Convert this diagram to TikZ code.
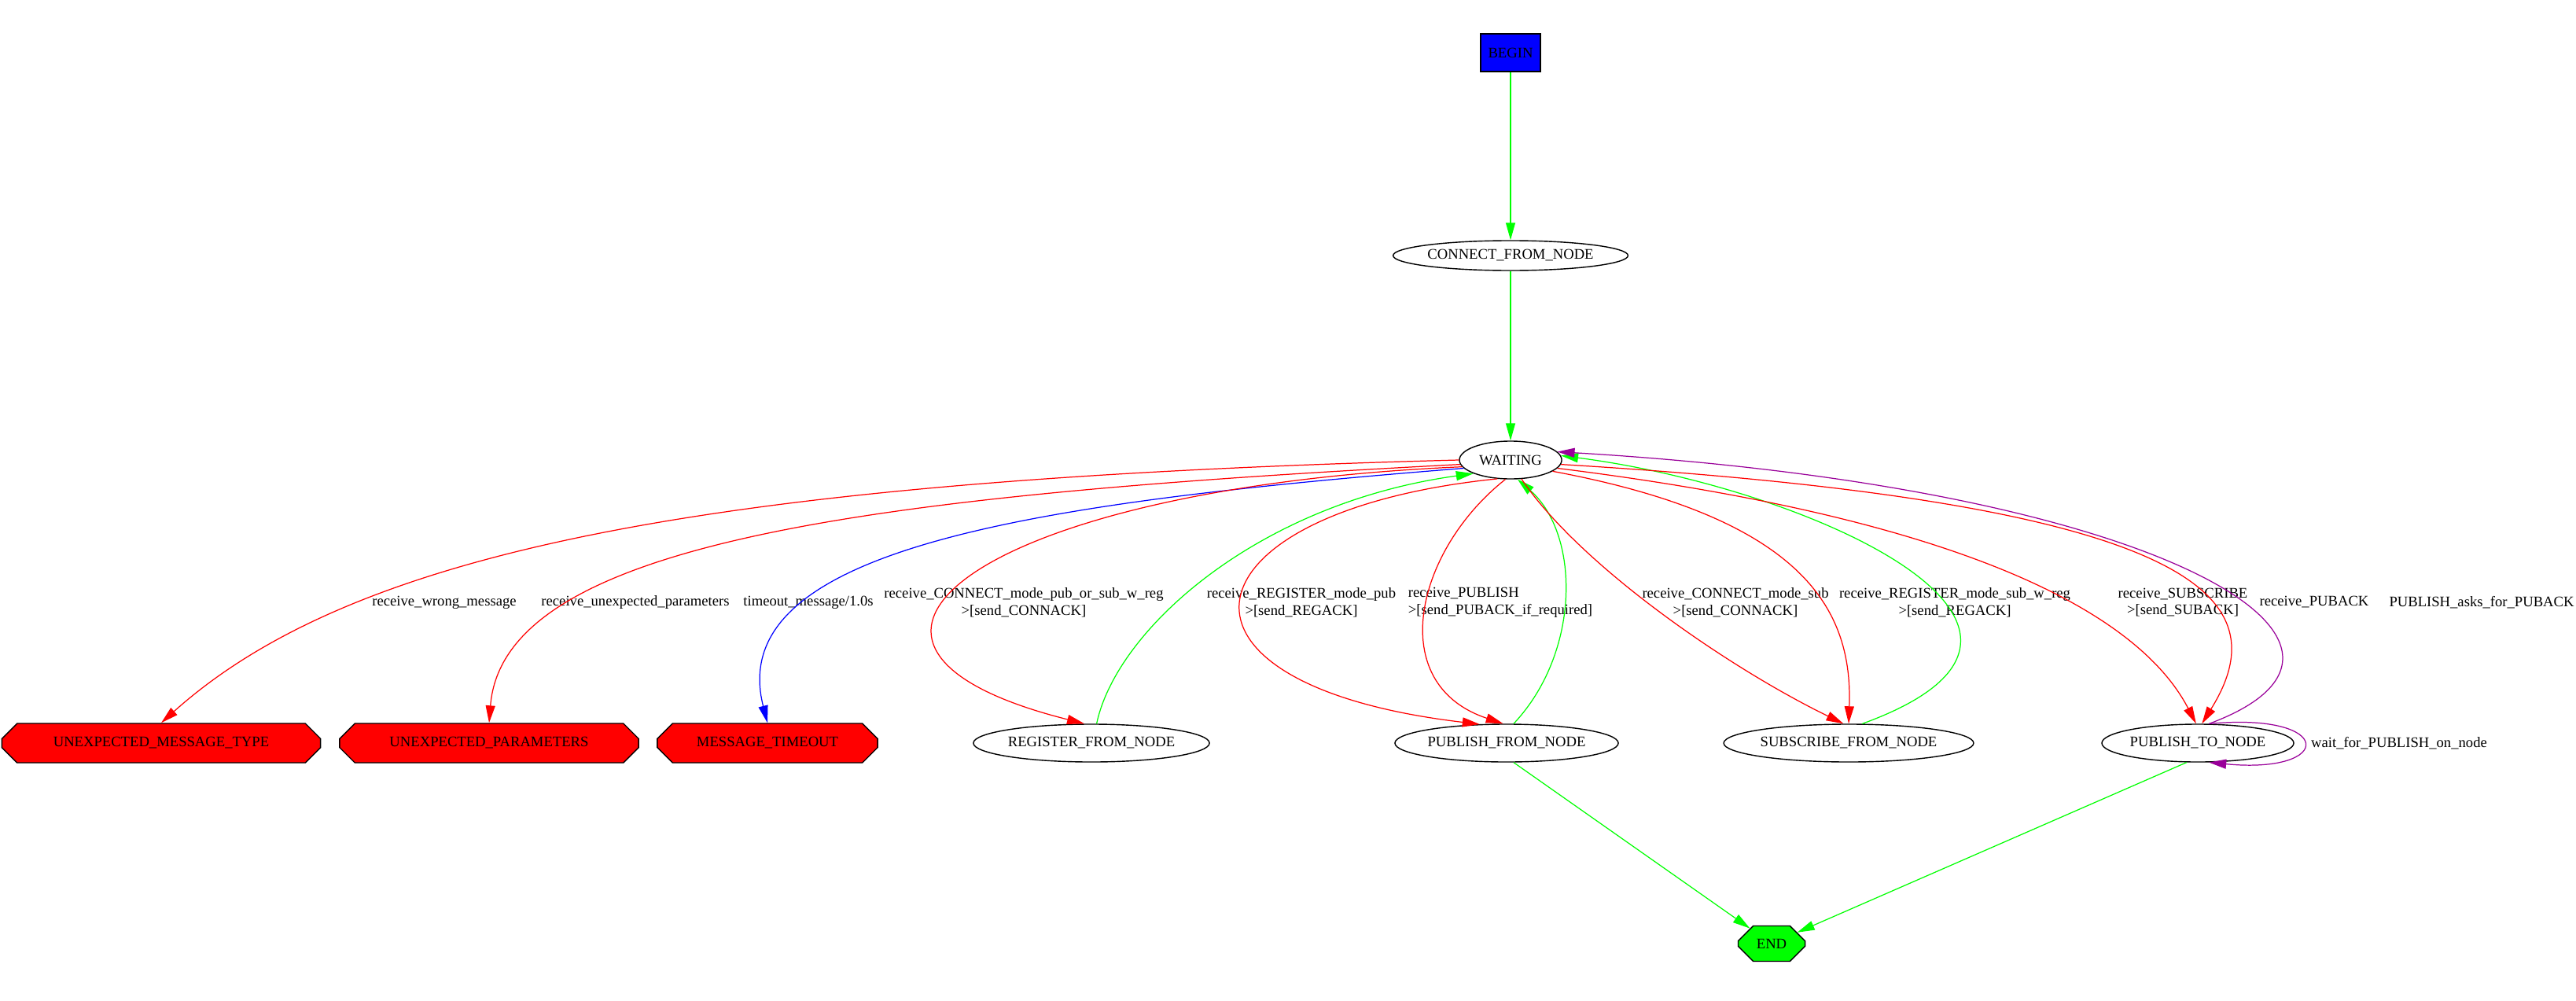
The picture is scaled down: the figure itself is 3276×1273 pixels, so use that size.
\documentclass[tikz,border=0pt]{standalone}
\usepackage{fontspec}
\setmainfont{Liberation Serif}
\usetikzlibrary{arrows.meta,shapes.misc,shapes.geometric}
\tikzset{
  state/.style={draw,ellipse,line width=0.4pt,inner sep=0pt,minimum height=0.38cm},
  errstate/.style={draw,chamfered rectangle,fill=red,inner sep=0pt,minimum height=0.5cm,chamfered rectangle ysep=0.12cm},
  lbl/.style={font=\fontsize{5.3}{6.2}\selectfont,align=center,text=black,inner sep=1pt},
  tr/.style={-{Triangle[length=0.22cm,width=0.12cm]},line width=0.35pt}
}
\begin{document}
\begin{tikzpicture}[x=0.01cm,y=-0.01cm,font=\fontsize{5.3}{6.5}\selectfont]
\useasboundingbox (0,0) rectangle (3276,1273);
% states
\node[draw,fill=blue,minimum width=0.76cm,minimum height=0.48cm,inner sep=0pt] (begin) at (1921,67) {BEGIN};
\node[state,minimum width=2.95cm] (connect) at (1921,325) {CONNECT\_FROM\_NODE};
\node[state,minimum width=1.3cm,minimum height=0.48cm] (waiting) at (1921,585) {WAITING};
\node[errstate,minimum width=4.05cm,chamfered rectangle xsep=1.15cm] (umt) at (205,945) {UNEXPECTED\_MESSAGE\_TYPE};
\node[errstate,minimum width=3.8cm,chamfered rectangle xsep=1.05cm] (upar) at (622,945) {UNEXPECTED\_PARAMETERS};
\node[errstate,minimum width=2.8cm,chamfered rectangle xsep=0.8cm] (mto) at (976,945) {MESSAGE\_TIMEOUT};
\node[state,minimum width=2.98cm,minimum height=0.48cm] (regfn) at (1388,945) {REGISTER\_FROM\_NODE};
\node[state,minimum width=2.84cm,minimum height=0.48cm] (pubfn) at (1916,945) {PUBLISH\_FROM\_NODE};
\node[state,minimum width=3.1cm,minimum height=0.48cm] (subfn) at (2351,945) {SUBSCRIBE\_FROM\_NODE};
\node[state,minimum width=2.43cm,minimum height=0.48cm] (pubtn) at (2795,945) {PUBLISH\_TO\_NODE};
\node[draw,chamfered rectangle,chamfered rectangle xsep=0.2cm,chamfered rectangle ysep=0.13cm,fill=green,minimum width=0.85cm,minimum height=0.45cm,inner sep=0pt] (end) at (2253,1200) {END};
% labels
\node[lbl] (lwrong) at (565,766) {receive\_wrong\_message};
\node[lbl] (lunexp) at (808,766) {receive\_unexpected\_parameters};
\node[lbl] (ltime) at (1028,766) {timeout\_message/1.0s};
\node[lbl] (lconpub) at (1302,766) {receive\_CONNECT\_mode\_pub\_or\_sub\_w\_reg\\>[send\_CONNACK]};
\node[lbl] (lregpub) at (1655,766) {receive\_REGISTER\_mode\_pub\\>[send\_REGACK]};
\node[lbl,align=left] (lpub) at (1908,766) {receive\_PUBLISH\\>[send\_PUBACK\_if\_required]};
\node[lbl] (lconsub) at (2207,766) {receive\_CONNECT\_mode\_sub\\>[send\_CONNACK]};
\node[lbl] (lregsub) at (2486,766) {receive\_REGISTER\_mode\_sub\_w\_reg\\>[send\_REGACK]};
\node[lbl] (lsub) at (2776,766) {receive\_SUBSCRIBE\\>[send\_SUBACK]};
\node[lbl] (lpuback) at (2943,766) {receive\_PUBACK};
\node[lbl] (lasks) at (3156,766) {PUBLISH\_asks\_for\_PUBACK};
\node[lbl] (lwait) at (3051,945) {wait\_for\_PUBLISH\_on\_node};
% transitions
\draw[tr,green] (begin) -- (connect);
\draw[tr,green] (connect) -- (waiting);
\draw[tr,red] (waiting.west) .. controls (900,610) and (450,700) .. (umt.north);
\draw[tr,red] (waiting.185) .. controls (1100,630) and (640,690) .. (upar.north);
\draw[tr,blue] (waiting.190) .. controls (1300,640) and (920,700) .. (mto.north);
\draw[tr,red] (waiting.188) .. controls (1250,620) and (980,820) .. (regfn.110);
\draw[tr,green] (regfn.75) .. controls (1420,800) and (1600,640) .. (waiting.200);
\draw[tr,red] (waiting.235) .. controls (1500,650) and (1450,870) .. (pubfn.145);
\draw[tr,red] (waiting.255) .. controls (1800,700) and (1760,870) .. (pubfn.100);
\draw[tr,green] (pubfn.70) .. controls (2010,830) and (2010,680) .. (waiting.290);
\draw[tr,red] (waiting.300) .. controls (2010,720) and (2200,850) .. (subfn.105);
\draw[tr,red] (waiting.345) .. controls (2300,660) and (2356,780) .. (subfn.north);
\draw[tr,green] (subfn.55) .. controls (2700,800) and (2300,620) .. (waiting.5);
\draw[tr,red] (waiting.350) .. controls (2500,660) and (2720,780) .. (pubtn.95);
\draw[tr,red] (waiting.355) .. controls (2800,640) and (2900,760) .. (pubtn.78);
\draw[tr,violet!80!magenta] (pubtn.60) .. controls (3080,820) and (2750,620) .. (waiting.10);
\draw[tr,violet!80!magenta] (pubtn.60) .. controls (2970,905) and (2970,985) .. (pubtn.-60);
\draw[tr,green] (pubfn.-70) -- (end);
\draw[tr,green] (pubtn.-120) -- (end);
\end{tikzpicture}
\end{document}
